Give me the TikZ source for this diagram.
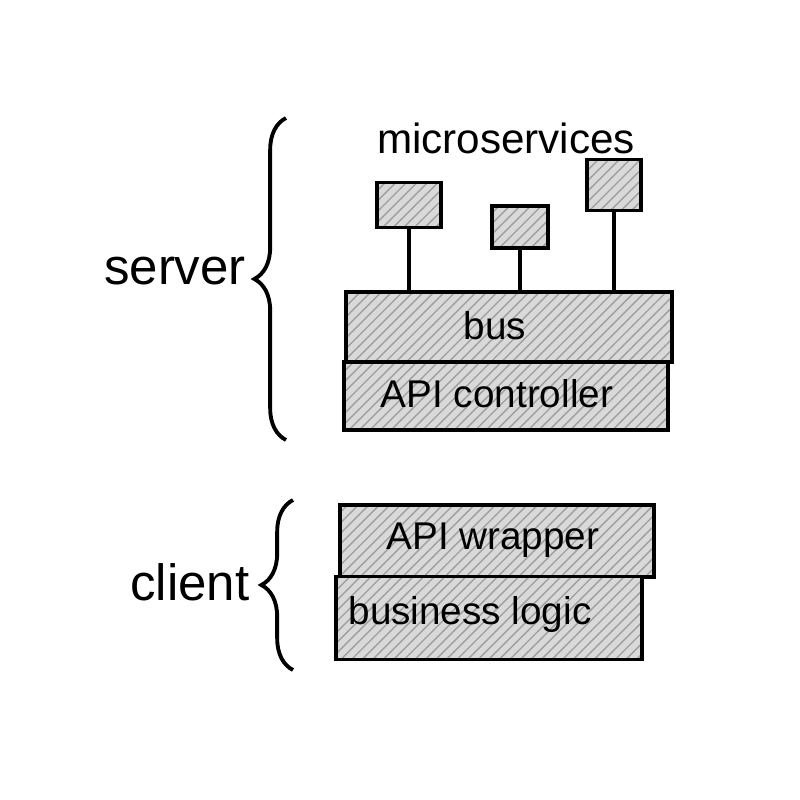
\documentclass[tikz,border=0pt]{standalone}
\usepackage{fontspec}
\setmainfont{Liberation Sans}
\usetikzlibrary{patterns,decorations.pathreplacing}
\begin{document}
\begin{tikzpicture}[x=0.01cm,y=-0.01cm,
  hatched/.style={draw=black, line width=1.1pt, preaction={fill=gray!30},
    pattern=north east lines, pattern color=gray!75, inner sep=0pt},
  link/.style={draw=black, line width=1.1pt},
  bracestyle/.style={draw=black, line width=1.1pt, decorate,
    decoration={brace, amplitude=9pt}},
  lbl/.style={font=\fontsize{14.5}{17}\selectfont, inner sep=0pt},
  mslbl/.style={font=\fontsize{12}{14}\selectfont, inner sep=0pt},
  boxtext/.style={font=\fontsize{11}{13}\selectfont, inner sep=0pt}]
\useasboundingbox (0,0) rectangle (800,800);
\fill[white] (0,0) rectangle (800,800);

% microservices
\node[mslbl] (mstitle) at (506,138) {microservices};
\node[hatched, minimum width=0.64cm, minimum height=0.45cm] (ms1) at (409,205) {};
\node[hatched, minimum width=0.56cm, minimum height=0.42cm] (ms2) at (520,227) {};
\node[hatched, minimum width=0.54cm, minimum height=0.51cm] (ms3) at (614,185) {};

% server stack
\node[hatched, minimum width=3.26cm, minimum height=0.70cm] (bus) at (509,327) {};
\node[boxtext] (bustext) at (495,326) {bus};
\node[hatched, minimum width=3.24cm, minimum height=0.68cm] (api) at (506,396) {};
\node[boxtext] (apitext) at (497,394) {API controller};

\draw[link] (ms1.south) -- (ms1.south |- bus.north);
\draw[link] (ms2.south) -- (ms2.south |- bus.north);
\draw[link] (ms3.south) -- (ms3.south |- bus.north);

% client stack
\node[hatched, minimum width=3.13cm, minimum height=0.72cm] (wrap) at (497,541) {};
\node[boxtext] (wraptext) at (493,540) {API wrapper};
\node[hatched, minimum width=3.05cm, minimum height=0.83cm] (logic) at (489,618) {};
\node[boxtext] (logictext) at (470,614) {business logic};

% braces and labels
\coordinate (sb1) at (286,440);
\coordinate (sb2) at (286,118);
\draw[bracestyle] (sb1) -- (sb2);
\node[lbl] (server) at (175,271) {server};

\coordinate (cb1) at (293,670);
\coordinate (cb2) at (293,500);
\draw[bracestyle] (cb1) -- (cb2);
\node[lbl] (client) at (190,582) {client};
\end{tikzpicture}
\end{document}
